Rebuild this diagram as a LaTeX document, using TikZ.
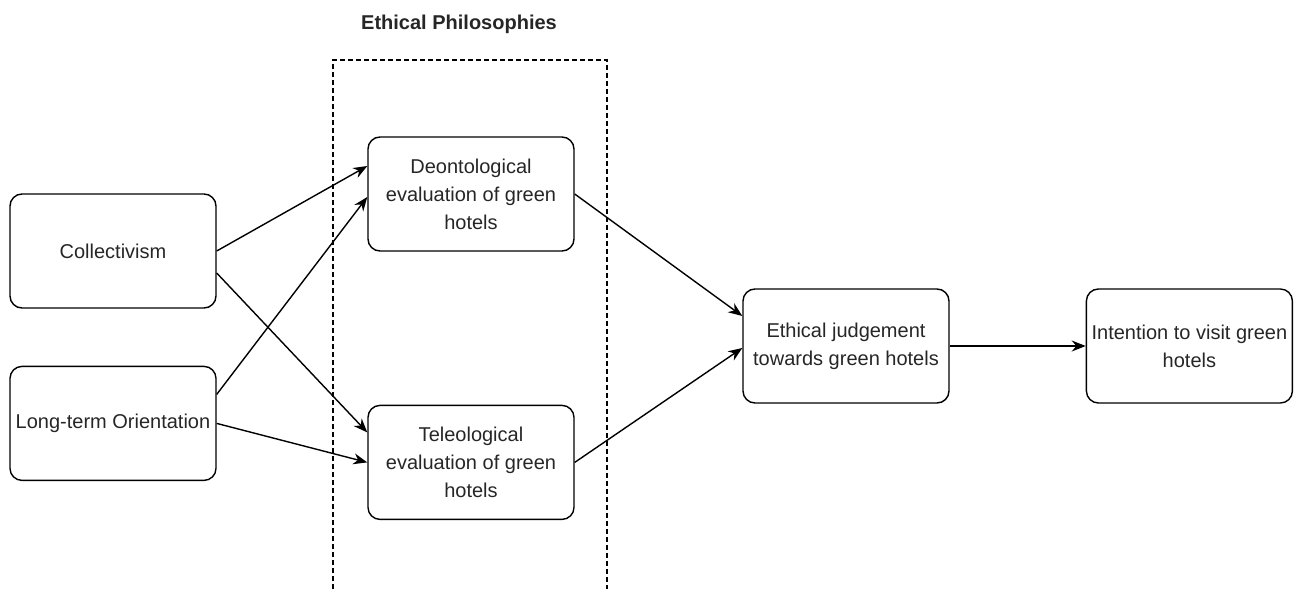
\documentclass[tikz,border=0pt]{standalone}
\usepackage{fontspec}
\setmainfont{Liberation Sans}
\usetikzlibrary{arrows.meta, positioning}

\begin{document}
\begin{tikzpicture}[
  x=0.5pt, y=-0.5pt,
  box/.style={rectangle, rounded corners=6pt, minimum width=103pt, minimum height=57pt,
              inner sep=1pt, align=center, draw=black, line width=0.7pt,
              font=\fontsize{10}{14}\selectfont, text=black!85},
  arrow/.style={-{Stealth[length=7pt, width=5.5pt]}, line width=0.7pt},
  header/.style={font=\fontsize{10}{12}\selectfont\bfseries, text=black!85},
  frame/.style={dash pattern=on 2.5pt off 1.5pt, line width=0.6pt}
]
\useasboundingbox (0,0) rectangle (1296,589);

% ---- Ethical philosophies frame ----
\node[header] (eth_title) at (459,24) {Ethical Philosophies};
\draw[frame] (333,589) -- (333,60) -- (607,60) -- (607,589);

% ---- LEFT column: cultural values ----
\node[box] (coll) at (113,251) {Collectivism};
\node[box, below=28.5pt of coll] (lto) {Long-term Orientation};

% ---- MIDDLE column: evaluations ----
\node[box] (deon) at (471,194) {Deontological\\evaluation of green\\hotels};
\node[box, below=76.5pt of deon] (tele) {Teleological\\evaluation of green\\hotels};

% ---- RIGHT: judgement and intention ----
\node[box] (judge) at (846,346) {Ethical judgement\\towards green hotels};
\node[box, right=68pt of judge] (visit) {Intention to visit green\\hotels};

\draw[arrow] (coll.east)               -- ([yshift=14pt]deon.west);
\draw[arrow] ([yshift=-11pt]coll.east) -- ([yshift=15pt]tele.west);
\draw[arrow] ([yshift=14.5pt]lto.east) -- ([yshift=-1.5pt]deon.west);
\draw[arrow] (lto.east)                -- (tele.west);
\draw[arrow] (deon.east)               -- ([yshift=15pt]judge.west);
\draw[arrow] (tele.east)               -- ([yshift=-1pt]judge.west);
\draw[arrow] (judge)                   -- (visit);

\end{tikzpicture}
\end{document}
